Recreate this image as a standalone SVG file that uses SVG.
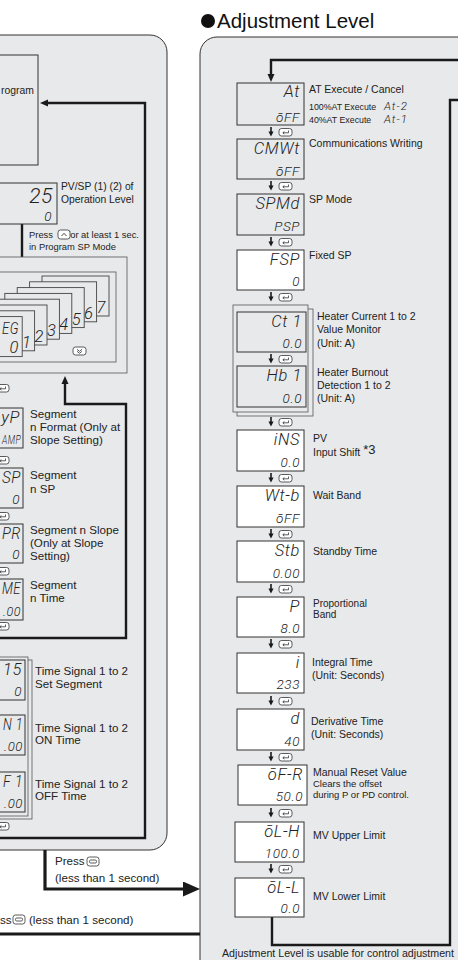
<svg xmlns="http://www.w3.org/2000/svg" xmlns:xlink="http://www.w3.org/1999/xlink" width="458" height="960" viewBox="0 0 458 960">
<style>
.panel{fill:#e8e9eb;stroke:#333;stroke-width:1}
.box{fill:#e8e9eb;stroke:#333;stroke-width:1}
.wbox{fill:#fff;stroke:#333;stroke-width:1}
.frame{fill:#e8e9eb;stroke:#555;stroke-width:0.8}
.sbox{fill:#e8e9eb;stroke:#444;stroke-width:0.9}
.conn{fill:none;stroke:#1a1a1a;stroke-width:2.4}
.thick{fill:none;stroke:#1a1a1a;stroke-width:3.2}
.thin{fill:none;stroke:#222;stroke-width:1.1}
.lbl{font-family:"Liberation Sans",Arial,sans-serif;font-size:10.5px;fill:#222}
.lbl2{font-family:"Liberation Sans",Arial,sans-serif;font-size:11.6px;fill:#222}
.sm{font-family:"Liberation Sans",Arial,sans-serif;font-size:9.5px;fill:#222}
.ttl{font-family:"Liberation Sans",Arial,sans-serif;font-size:20.5px;fill:#111}
.d1{font-family:Roboto,"DejaVu Sans",sans-serif;font-weight:300;font-style:italic;font-size:16.5px;letter-spacing:0.6px;fill:#222;text-anchor:end}
.d2{font-family:Roboto,"DejaVu Sans",sans-serif;font-weight:300;font-style:italic;font-size:13.5px;letter-spacing:0.6px;fill:#222;text-anchor:end}
.d3{font-family:Roboto,"DejaVu Sans",sans-serif;font-weight:300;font-style:italic;font-size:11.5px;letter-spacing:1px;fill:#222}
</style>
<defs>
<marker id="ah" viewBox="0 0 8 8" refX="3" refY="4" markerWidth="8" markerHeight="8" markerUnits="userSpaceOnUse" orient="auto"><path d="M0,0.5 L8,4 L0,7.5 z" fill="#1a1a1a"/></marker>
<marker id="ahs" viewBox="0 0 7 6" refX="5" refY="3" markerWidth="7" markerHeight="6" markerUnits="userSpaceOnUse" orient="auto"><path d="M0,0 L7,3 L0,6 z" fill="#222"/></marker>
<marker id="ahb" viewBox="0 0 17 15" refX="4" refY="7.5" markerWidth="17" markerHeight="15" markerUnits="userSpaceOnUse" orient="auto"><path d="M0,0 L17,7.5 L0,15 z" fill="#1a1a1a"/></marker>
<g id="kret"><rect x="0" y="0" width="13" height="7.5" rx="2.5" fill="#fff" stroke="#333" stroke-width="0.8"/><path d="M9.5 2 V4.3 H4 M5.4 3 L3.8 4.3 L5.4 5.6" fill="none" stroke="#333" stroke-width="0.8"/></g>
<g id="step"><path d="M0 0 V5" stroke="#1a1a1a" stroke-width="1.6"/><path d="M-2.6,4.5 L2.6,4.5 L0,9.5 z" fill="#1a1a1a"/><use xlink:href="#kret" x="8" y="1.5"/></g>
<g id="kmode"><rect x="0" y="0" width="12" height="9" rx="2.5" fill="#fff" stroke="#333" stroke-width="0.8"/><rect x="2.5" y="3" width="7" height="3" rx="1.2" fill="none" stroke="#333" stroke-width="0.8"/></g>
<g id="kup"><rect x="0" y="0" width="12" height="9" rx="2.5" fill="#fff" stroke="#333" stroke-width="0.8"/><path d="M3.5 6 L6 3.3 L8.5 6" fill="none" stroke="#333" stroke-width="0.9"/></g>
<g id="kdown"><rect x="0" y="0" width="13" height="8" rx="2.5" fill="#fff" stroke="#333" stroke-width="0.8"/><path d="M4 2.3 L6.5 4.3 L9 2.3 M4 4.3 L6.5 6.3 L9 4.3" fill="none" stroke="#333" stroke-width="0.8"/></g>
</defs>

<rect x="0" y="0" width="458" height="960" fill="#fff"/>

<!-- panels -->
<g id="panel-left"><path class="panel" d="M-10 35 H150 A17 17 0 0 1 167 52 V833 A17 17 0 0 1 150 850 H-10 Z"/></g>
<g id="panel-right"><path class="panel" d="M470 37 H217 A17 17 0 0 0 200 54 V970 H470 Z"/></g>

<g id="title"><circle cx="208" cy="21" r="7" fill="#111"/><text class="ttl" x="217" y="28">Adjustment Level</text></g>

<!-- connectors -->
<g id="connectors">
<path class="conn" d="M458 60 H271 V77" marker-end="url(#ah)"/>
<path class="conn" d="M272 917 V945 H450 V100 H458"/>
<path class="conn" d="M0 838 H145 V103 H45" marker-end="url(#ah)"/>
<path class="conn" d="M22 224 V263" marker-end="url(#ah)"/>
<path class="conn" d="M0 638 H126 V404 H65 V381" marker-end="url(#ah)"/>
<path class="thick" d="M45 850 V889 H187" marker-end="url(#ahb)"/>
<path class="thick" d="M0 934 H200"/>
<path class="thin" d="M-2 289 L21 277" marker-end="url(#ahs)"/>
<path class="thin" d="M106 326 L50 354" marker-end="url(#ahs)"/>
<use xlink:href="#step" x="271" y="127"/>
<use xlink:href="#step" x="271" y="181"/>
<use xlink:href="#step" x="271" y="237"/>
<use xlink:href="#step" x="271" y="292"/>
<use xlink:href="#step" x="271" y="417"/>
<use xlink:href="#step" x="271" y="473"/>
<use xlink:href="#step" x="271" y="529"/>
<use xlink:href="#step" x="271" y="584"/>
<use xlink:href="#step" x="271" y="639"/>
<use xlink:href="#step" x="271" y="696"/>
<use xlink:href="#step" x="271" y="752"/>
<use xlink:href="#step" x="271" y="808"/>
<use xlink:href="#step" x="271" y="864"/>
<use xlink:href="#step" x="-12" y="383"/>
<use xlink:href="#step" x="-12" y="455"/>
<use xlink:href="#step" x="-12" y="511"/>
<use xlink:href="#step" x="-12" y="566"/>
<use xlink:href="#step" x="-12" y="621"/>
<use xlink:href="#step" x="-12" y="703"/>
<use xlink:href="#step" x="-12" y="757"/>
<use xlink:href="#step" x="-12" y="821"/>
</g>

<!-- right panel nodes -->
<g id="n-at"><rect class="box" x="237" y="83" width="67" height="42"/><text class="d1" x="300" y="97">At</text><text class="d2" x="300" y="122">ōFF</text>
<text class="lbl" x="309" y="93">AT Execute / Cancel</text>
<text class="sm" x="309" y="110" style="font-size:8.8px">100%AT Execute</text><text class="d3" x="384" y="110">At-2</text>
<text class="sm" x="309" y="123" style="font-size:8.8px">40%AT Execute</text><text class="d3" x="384" y="123">At-1</text></g>
<g id="n-cmwt"><rect class="box" x="237" y="139" width="67" height="40"/><text class="d1" x="300" y="154">CMWt</text><text class="d2" x="300" y="176">ōFF</text><text class="lbl" x="309" y="147">Communications Writing</text></g>
<g id="n-spmd"><rect class="box" x="237" y="194" width="67" height="41"/><text class="d1" x="300" y="209">SPMd</text><text class="d2" x="300" y="231">PSP</text><text class="lbl" x="309" y="203">SP Mode</text></g>
<g id="n-fsp"><rect class="wbox" x="237" y="250" width="67" height="40"/><text class="d1" x="300" y="265">FSP</text><text class="d2" x="300" y="286">0</text><text class="lbl" x="309" y="259">Fixed SP</text></g>
<g id="n-ct-hb">
<rect class="frame" x="237" y="309" width="76" height="107"/><rect class="frame" x="233" y="305" width="75" height="107"/>
<rect class="box" x="237" y="312" width="69" height="40"/><text class="d1" x="302" y="327">Ct 1</text><text class="d2" x="302" y="348">0.0</text>
<use xlink:href="#step" x="271" y="354"/>
<rect class="box" x="237" y="366" width="69" height="41"/><text class="d1" x="302" y="381">Hb 1</text><text class="d2" x="302" y="403">0.0</text>
<text class="lbl" x="317" y="320">Heater Current 1 to 2</text><text class="lbl" x="317" y="333">Value Monitor</text><text class="lbl" x="317" y="347">(Unit: A)</text>
<text class="lbl" x="317" y="376">Heater Burnout</text><text class="lbl" x="317" y="389">Detection 1 to 2</text><text class="lbl" x="317" y="402">(Unit: A)</text></g>
<g id="n-ins"><rect class="wbox" x="237" y="430" width="67" height="41"/><text class="d1" x="300" y="445">iNS</text><text class="d2" x="300" y="467">0.0</text><text class="lbl" x="313" y="442">PV</text><text class="lbl" x="313" y="456">Input Shift <tspan style="font-size:13px" dy="-2">*3</tspan></text></g>
<g id="n-wtb"><rect class="wbox" x="237" y="486" width="67" height="41"/><text class="d1" x="300" y="501">Wt-b</text><text class="d2" x="300" y="523">ōFF</text><text class="lbl" x="313" y="499">Wait Band</text></g>
<g id="n-stb"><rect class="wbox" x="237" y="541" width="67" height="41"/><text class="d1" x="300" y="556">Stb</text><text class="d2" x="300" y="578">0.00</text><text class="lbl" x="313" y="555">Standby Time</text></g>
<g id="n-p"><rect class="wbox" x="237" y="597" width="67" height="40"/><text class="d1" x="300" y="612">P</text><text class="d2" x="300" y="633">8.0</text><text class="lbl" x="313" y="607" style="font-size:10px">Proportional</text><text class="lbl" x="313" y="618" style="font-size:10px">Band</text></g>
<g id="n-i"><rect class="wbox" x="237" y="653" width="67" height="40"/><text class="d1" x="300" y="668">i</text><text class="d2" x="300" y="689">233</text><text class="lbl" x="312" y="666">Integral Time</text><text class="lbl" x="312" y="679">(Unit: Seconds)</text></g>
<g id="n-d"><rect class="wbox" x="237" y="709" width="67" height="41"/><text class="d1" x="300" y="724">d</text><text class="d2" x="300" y="746">40</text><text class="lbl" x="311" y="725">Derivative Time</text><text class="lbl" x="311" y="738">(Unit: Seconds)</text></g>
<g id="n-ofr"><rect class="wbox" x="238" y="765" width="69" height="40"/><text class="d1" x="303" y="780">ōF-R</text><text class="d2" x="303" y="801">50.0</text><text class="lbl" x="313" y="776">Manual Reset Value</text><text class="sm" x="313" y="787">Clears the offset</text><text class="sm" x="313" y="798">during P or PD control.</text></g>
<g id="n-olh"><rect class="wbox" x="235" y="822" width="69" height="40"/><text class="d1" x="300" y="837">ōL-H</text><text class="d2" x="300" y="858">100.0</text><text class="lbl" x="313" y="839">MV Upper Limit</text></g>
<g id="n-oll"><rect class="wbox" x="235" y="878" width="69" height="39"/><text class="d1" x="300" y="893">ōL-L</text><text class="d2" x="300" y="913">0.0</text><text class="lbl" x="313" y="900">MV Lower Limit</text></g>
<g id="note-bottom"><text class="lbl" x="222" y="956.5" style="font-size:10px" textLength="232" lengthAdjust="spacingAndGlyphs">Adjustment Level is usable for control adjustment</text></g>

<!-- left panel nodes -->
<g id="n-program"><rect class="box" x="-10" y="55" width="48" height="110"/><text class="lbl" x="34" y="94" text-anchor="end" style="font-size:10.4px">rogram</text></g>
<g id="n-pvsp"><rect class="box" x="-10" y="183" width="67" height="41"/><text class="d1" x="53" y="203" style="font-size:21px">25</text><text class="d2" x="52" y="221">0</text>
<text class="lbl" x="61" y="190" style="font-size:10.3px">PV/SP (1) (2) of</text><text class="lbl" x="61" y="203" style="font-size:10.3px">Operation Level</text>
<text class="sm" x="29" y="238" style="font-size:9.4px">Press <tspan dx="12">for at least 1 sec.</tspan></text><use xlink:href="#kup" x="58" y="230"/>
<text class="sm" x="29" y="250" style="font-size:9.4px">in Program SP Mode</text></g>
<g id="n-seg">
<rect class="frame" x="-10" y="257" width="137" height="116"/>
<rect class="frame" x="-10" y="272" width="126" height="90"/>
<rect class="sbox" x="42" y="276" width="67" height="40"/><text class="d1" x="106" y="313">7</text>
<rect class="sbox" x="29.6" y="281.8" width="67" height="40"/><text class="d1" x="93.6" y="318.8">6</text>
<rect class="sbox" x="17.2" y="287.6" width="67" height="40"/><text class="d1" x="81.2" y="324.6">5</text>
<rect class="sbox" x="4.8" y="293.4" width="67" height="40"/><text class="d1" x="68.8" y="330.4">4</text>
<rect class="sbox" x="-7.6" y="299.2" width="67" height="40"/><text class="d1" x="56.4" y="336.2">3</text>
<rect class="sbox" x="-20" y="305" width="67" height="40"/><text class="d1" x="44" y="342">2</text>
<rect class="sbox" x="-32.4" y="310.8" width="67" height="40"/><text class="d1" x="31.6" y="347.8">1</text>
<rect class="sbox" x="-44.8" y="316.6" width="67" height="40"/><text class="d1" x="19" y="334" textLength="17" lengthAdjust="spacingAndGlyphs">EG</text><text class="d1" x="19" y="353">0</text>
<use xlink:href="#kdown" x="73" y="347"/>
</g>
<g id="n-typ"><rect class="box" x="-10" y="408" width="33" height="40"/><text class="d1" x="20" y="423">yP</text><text class="d2" x="21" y="444" textLength="19" lengthAdjust="spacingAndGlyphs">AMP</text>
<text class="lbl2" x="30" y="418">Segment</text><text class="lbl2" x="30" y="431">n Format (Only at</text><text class="lbl2" x="30" y="444">Slope Setting)</text></g>
<g id="n-sp"><rect class="box" x="-10" y="468" width="33" height="40"/><text class="d1" x="21" y="483" textLength="19" lengthAdjust="spacingAndGlyphs">SP</text><text class="d2" x="20" y="504">0</text>
<text class="lbl2" x="30" y="479">Segment</text><text class="lbl2" x="30" y="493">n SP</text></g>
<g id="n-pr"><rect class="box" x="-10" y="524" width="33" height="39"/><text class="d1" x="21" y="539" textLength="19" lengthAdjust="spacingAndGlyphs">PR</text><text class="d2" x="20" y="559">0</text>
<text class="lbl2" x="30" y="534">Segment n Slope</text><text class="lbl2" x="30" y="547">(Only at Slope</text><text class="lbl2" x="30" y="560">Setting)</text></g>
<g id="n-time"><rect class="box" x="-10" y="579" width="33" height="41"/><text class="d1" x="21" y="594" textLength="19" lengthAdjust="spacingAndGlyphs">ME</text><text class="d2" x="21" y="616" textLength="18" lengthAdjust="spacingAndGlyphs">.00</text>
<text class="lbl2" x="30" y="589">Segment</text><text class="lbl2" x="30" y="602">n Time</text></g>
<g id="n-ts">
<rect class="frame" x="-10" y="660" width="42" height="159"/><rect class="frame" x="-10" y="657" width="38" height="159"/>
<rect class="box" x="-10" y="660" width="35" height="40"/><text class="d1" x="22" y="675">15</text><text class="d2" x="22" y="696">0</text>
<rect class="box" x="-10" y="715" width="35" height="40"/><text class="d1" x="23" y="730" textLength="20" lengthAdjust="spacingAndGlyphs">N 1</text><text class="d2" x="23" y="751" textLength="19" lengthAdjust="spacingAndGlyphs">.00</text>
<rect class="box" x="-10" y="772" width="35" height="40"/><text class="d1" x="23" y="787" textLength="20" lengthAdjust="spacingAndGlyphs">F 1</text><text class="d2" x="23" y="808" textLength="19" lengthAdjust="spacingAndGlyphs">.00</text>
<text class="lbl2" x="35" y="675">Time Signal 1 to 2</text><text class="lbl2" x="35" y="688">Set Segment</text>
<text class="lbl2" x="35" y="732">Time Signal 1 to 2</text><text class="lbl2" x="35" y="744">ON Time</text>
<text class="lbl2" x="35" y="788">Time Signal 1 to 2</text><text class="lbl2" x="35" y="800">OFF Time</text></g>

<g id="press-labels">
<text class="lbl2" x="55" y="865">Press</text><use xlink:href="#kmode" x="87" y="857"/>
<text class="lbl2" x="55" y="882">(less than 1 second)</text>
<text class="lbl2" x="0" y="924">ss</text><use xlink:href="#kmode" x="13" y="915"/><text class="lbl2" x="29" y="924">(less than 1 second)</text>
</g>
</svg>
